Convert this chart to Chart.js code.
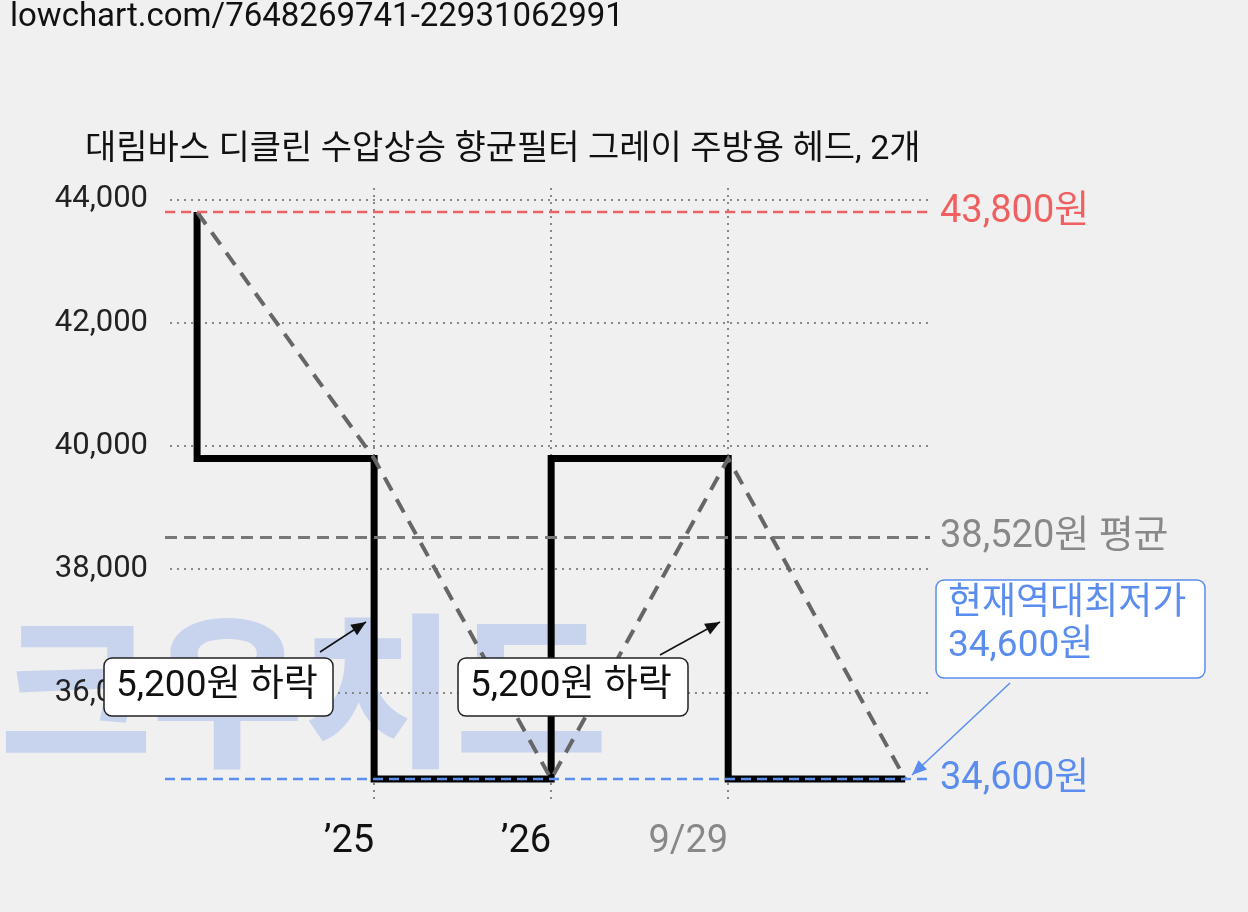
<!DOCTYPE html>
<html><head><meta charset="utf-8">
<script src="https://cdn.jsdelivr.net/npm/chart.js@4"></script>
<style>html,body{margin:0;background:#f0f0f0;}#w{width:1248px;height:912px;position:relative}</style>
</head><body><div id="w"><canvas id="c"></canvas></div>
<script>
const title = "대림바스 디클린 수압상승 향균필터 그레이 주방용 헤드, 2개";
const stepX = [0,0,1,1,2,2,3,3,4];
const stepY = [43800,39800,39800,34600,34600,39800,39800,34600,34600];
const trendX = [0,1,2,3,4];
const trendY = [43800,39800,34600,39800,34600];
const xTickVals = [1,2,3];
const xTickLabels = ["’25","’26","9/29"];
const yTickVals = [36000,38000,40000,42000,44000];
const maxPrice = 43800, avgPrice = 38520, minPrice = 34600;
const F = "Roboto, 'Noto Sans CJK KR', sans-serif";

const deco = {
  id:'deco',
  beforeDraw(ch){
    const c=ch.ctx; c.save();
    c.fillStyle='#f0f0f0'; c.fillRect(0,0,ch.width,ch.height);
    c.font="900 165px 'Noto Sans CJK KR'"; c.fillStyle='rgba(110,145,235,0.3)';
    c.textBaseline='middle'; c.fillText('크우치트',0,690);
    c.restore();
  },
  afterDatasetsDraw(ch){
    const c=ch.ctx, x=ch.scales.x, y=ch.scales.y, a=ch.chartArea;
    c.save();
    function hl(v,col,w,dash){c.beginPath();c.setLineDash(dash);c.strokeStyle=col;c.lineWidth=w;c.moveTo(a.left-5,y.getPixelForValue(v));c.lineTo(a.right,y.getPixelForValue(v));c.stroke();}
    hl(maxPrice,'#f06060',2.5,[10,6]);
    hl(avgPrice,'#777',3,[12,7]);
    hl(minPrice,'#5b8def',2.5,[10,6]);
    c.setLineDash([]);
    c.font="38px "+F; c.textBaseline='middle'; c.textAlign='left';
    c.fillStyle='#f06060'; c.fillText('43,800원',940,y.getPixelForValue(maxPrice));
    c.fillStyle='#888'; c.fillText('38,520원 평균',940,y.getPixelForValue(avgPrice));
    c.fillStyle='#5b8def'; c.fillText('34,600원',940,y.getPixelForValue(minPrice));
    c.font="34px "+F; c.fillStyle='#111'; c.fillText(title,85,150);
    c.font="33px "+F; c.fillText('lowchart.com/7648269741-22931062991',10,18);
    function arrow(x1,y1,x2,y2,col,w){c.strokeStyle=col;c.fillStyle=col;c.lineWidth=w;c.beginPath();c.moveTo(x1,y1);c.lineTo(x2,y2);c.stroke();const an=Math.atan2(y2-y1,x2-x1);c.beginPath();c.moveTo(x2,y2);c.lineTo(x2-16*Math.cos(an-0.4),y2-16*Math.sin(an-0.4));c.lineTo(x2-16*Math.cos(an+0.4),y2-16*Math.sin(an+0.4));c.closePath();c.fill();}
    function box(x0,y0,w,h,col,txts,ys){c.fillStyle='#fff';c.strokeStyle=col;c.lineWidth=1.5;c.beginPath();c.roundRect(x0,y0,w,h,8);c.fill();c.stroke();c.fillStyle=col==='#222'?'#111':col;c.font="37px "+F;c.textAlign='left';txts.forEach((t,i)=>c.fillText(t,x0+12,ys[i]));}
    arrow(320,652,366,622,'#111',1.5);
    arrow(660,655,720,622,'#111',1.5);
    box(104,658,229,58,'#222',['5,200원 하락'],[687]);
    box(458,658,230,58,'#222',['5,200원 하락'],[687]);
    arrow(1010,683,912,775,'#5b8def',1.5);
    box(936,580,269,98,'#5b8def',['현재역대최저가','34,600원'],[605,647]);
    c.restore();
  }
};
new Chart(document.getElementById('c'),{
  type:'scatter',
  data:{datasets:[
    {data:trendX.map((v,i)=>({x:v,y:trendY[i]})),showLine:true,borderColor:'#666',borderWidth:4,borderDash:[15,10],pointRadius:0},
    {data:stepX.map((v,i)=>({x:v,y:stepY[i]})),showLine:true,borderColor:'#000',borderWidth:7,pointRadius:0,borderJoinStyle:'miter'}
  ]},
  options:{responsive:true,maintainAspectRatio:false,animation:false,
    layout:{padding:{top:188,right:318,left:0,bottom:0}},
    plugins:{legend:{display:false},tooltip:{enabled:false}},
    scales:{
      x:{type:'linear',min:-0.153,max:4.14,
        afterBuildTicks:s=>{s.ticks=xTickVals.map(v=>({value:v}));},
        afterFit:s=>{s.height=112;},
        border:{display:false,dash:[2,5]},
        grid:{color:'#888',lineWidth:2,drawTicks:false},
        ticks:{padding:20,align:'end',font:{size:38,family:F},color:c=>c.index===2?'#888':'#111',callback:(v)=>xTickLabels[xTickVals.indexOf(v)]}},
      y:{min:34260,max:44190,
        afterBuildTicks:s=>{s.ticks=yTickVals.map(v=>({value:v}));},
        afterFit:s=>{s.width=170;},
        border:{display:false,dash:[2,5]},
        grid:{color:'#888',lineWidth:2,drawTicks:false},
        ticks:{padding:22,font:{size:31,family:F},color:'#222',callback:v=>v.toLocaleString('en-US')}}
    }},
  plugins:[deco]
});
</script></body></html>
